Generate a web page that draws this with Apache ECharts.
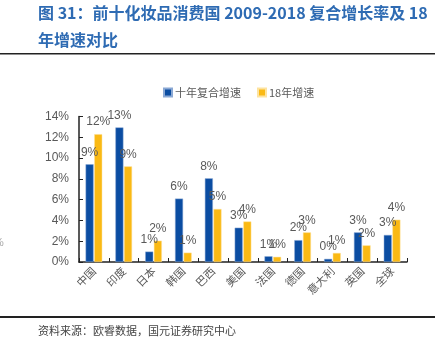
<!DOCTYPE html>
<html>
<head>
<meta charset="utf-8">
<script src="https://cdn.jsdelivr.net/npm/echarts@6/dist/echarts.min.js"></script>
<style>
  html, body { margin: 0; padding: 0; background: #fff; }
  #chart { width: 445px; height: 352px; }
</style>
</head>
<body>
<div id="chart"></div>
<script>
// 数据
const countries = ['中国', '印度', '日本', '韩国', '巴西', '美国', '法国', '德国', '意大利', '英国', '全球']
const cagr10 = [9.4, 12.95, 1.0, 6.1, 8.05, 3.3, 0.55, 2.1, 0.3, 2.85, 2.6]
const growth18 = [12.3, 9.2, 2.05, 0.9, 5.1, 3.9, 0.5, 2.85, 0.87, 1.6, 4.07]
const seriesNames = ['十年复合增速', '18年增速']
const yTicks = [0, 14, 2]

const colors = ['#0B4DA2', '#FAB914']
const grey = '#595959'

let myChart = echarts.init(document.getElementById('chart'))

const labelOpt = {
  show: true,
  position: 'top',
  distance: 6,
  color: grey,
  fontSize: 12,
  fontFamily: 'Liberation Sans',
  formatter: function (p) { return Math.round(p.value) + '%' }
}

myChart.setOption({
  animation: false,
  textStyle: { fontFamily: '"Noto Sans CJK SC", sans-serif' },
  graphic: [
    {
      type: 'text', left: 38, top: 5,
      style: { text: '图 31：前十化妆品消费国 2009-2018 复合增长率及 18', fill: '#2E6BB3', font: 'bold 16px "Noto Sans CJK SC"' }
    },
    {
      type: 'text', left: 38, top: 32,
      style: { text: '年增速对比', fill: '#2E6BB3', font: 'bold 16px "Noto Sans CJK SC"' }
    },
    {
      type: 'rect', shape: { x: 0, y: 53, width: 435, height: 1.5 },
      style: { fill: '#222' }
    },
    {
      type: 'rect', shape: { x: 0, y: 316, width: 435, height: 2 },
      style: { fill: '#222' }
    },
    {
      type: 'text', left: 38, top: 325,
      style: { text: '资料来源：欧睿数据，国元证券研究中心', fill: '#444', font: '11px "Noto Sans CJK SC"' }
    },
    {
      type: 'text', left: -6, top: 237,
      style: { text: '%', fill: '#aaa', font: '11px "Liberation Sans"' }
    }
  ],
  legend: {
    data: seriesNames,
    top: 82,
    left: 158,
    itemWidth: 8,
    itemHeight: 8,
    itemGap: 16,
    icon: 'rect',
    textStyle: { color: grey, fontSize: 11, padding: [0, 0, 0, -2] }
  },
  grid: {
    left: 79,
    right: 38,
    top: 116.5,
    bottom: 90
  },
  xAxis: [
    {
      type: 'category',
      data: countries,
      axisLine: { lineStyle: { color: '#222', width: 1.5 } },
      axisTick: { show: true, inside: true, length: 4, lineStyle: { color: '#222' } },
      axisLabel: {
        interval: 0,
        rotate: 45,
        color: grey,
        fontSize: 11,
        margin: 7
      }
    }
  ],
  yAxis: [
    {
      type: 'value',
      min: yTicks[0],
      max: yTicks[1],
      interval: yTicks[2],
      splitLine: { show: false },
      axisLine: { show: true, lineStyle: { color: '#222', width: 1.5 } },
      axisTick: { show: true, inside: true, length: 4, lineStyle: { color: '#222' } },
      axisLabel: {
        color: grey,
        fontSize: 12,
        fontFamily: 'Liberation Sans',
        margin: 10,
        formatter: '{value}%'
      }
    }
  ],
  series: [
    {
      name: seriesNames[0],
      type: 'bar',
      data: cagr10,
      barWidth: 8,
      barGap: '8%',
      itemStyle: { color: colors[0], borderColor: '#8aa8d4', borderWidth: 0.5 },
      label: labelOpt
    },
    {
      name: seriesNames[1],
      type: 'bar',
      data: growth18,
      barWidth: 8,
      itemStyle: { color: colors[1], borderColor: '#fde3a0', borderWidth: 0.5 },
      label: labelOpt
    }
  ]
})
</script>
</body>
</html>
